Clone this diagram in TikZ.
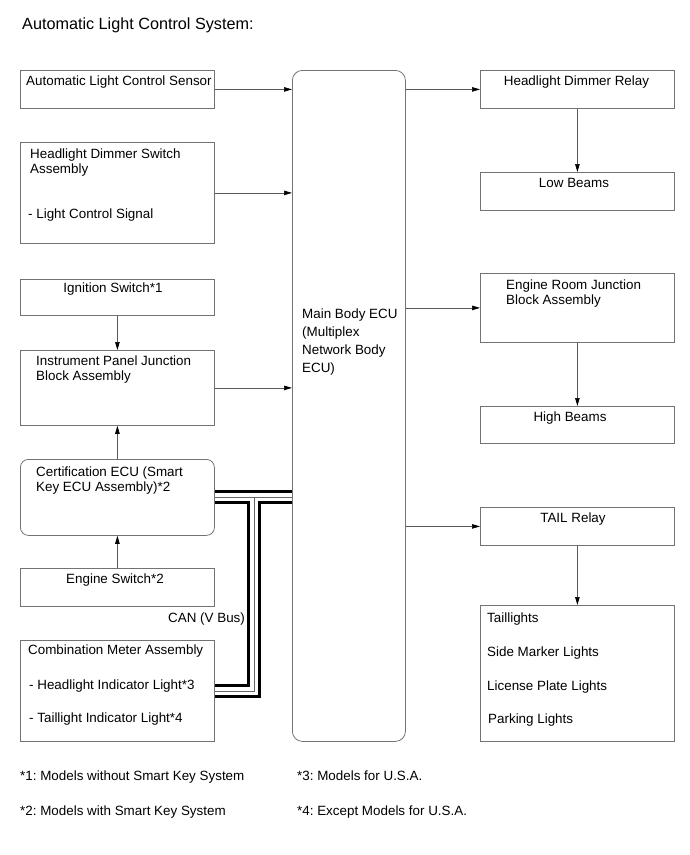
\documentclass[tikz,border=0pt]{standalone}
\usepackage{fontspec}
\setmainfont{Liberation Sans}
\usetikzlibrary{arrows.meta}
\frenchspacing

\tikzset{
  block/.style={draw=black!55, line width=0.8pt, rectangle, inner sep=0pt,
    anchor=north west, minimum width=194pt},
  rblock/.style={block, rounded corners=8pt},
  txt/.style={anchor=base west, inner sep=0pt, font=\fontsize{13.4}{15}\selectfont},
  ctxt/.style={txt, anchor=base},
  mtxt/.style={txt, anchor=north west, align=left},
  flow/.style={draw=black!65, line width=0.7pt,
    -{Triangle[length=8pt,width=4.5pt,color=black]}},
}

\begin{document}
\begin{tikzpicture}[x=1pt, y=-1pt]
  \useasboundingbox (0,0) rectangle (690,855);

  \node[anchor=base west, inner sep=0pt, font=\fontsize{16.2}{19}\selectfont]
    (title) at (22,29) {Automatic Light Control System:};

  % inputs
  \node[block, minimum height=38pt]  (sensor) at (20,70) {};
  \node[block, minimum height=101pt] (hdsa)   at (20,142) {};
  \node[block, minimum height=36pt]  (ign)    at (20,279) {};
  \node[block, minimum height=75pt]  (ipjb)   at (20,350) {};
  \node[rblock, minimum height=76pt] (cert)   at (20,459) {};
  \node[block, minimum height=38pt]  (engsw)  at (20,568) {};
  \node[block, minimum height=101pt] (combo)  at (20,640) {};

  % main body ecu
  \node[block, rounded corners=10pt, minimum width=113pt, minimum height=671pt]
    (ecu) at (292,70) {};

  % outputs
  \node[block, minimum height=38pt]  (hdr)   at (480,70) {};
  \node[block, minimum height=38pt]  (low)   at (480,172) {};
  \node[block, minimum height=69pt]  (erjb)  at (480,273) {};
  \node[block, minimum height=37pt]  (high)  at (480,406) {};
  \node[block, minimum height=38pt]  (tail)  at (480,507) {};
  \node[block, minimum height=136pt] (lamps) at (480,605) {};

  % texts
  \node[txt]  (sensor-t) at (26,85) {Automatic Light Control Sensor};
  \node[mtxt] (hdsa-t)   at (30,148.4) {Headlight Dimmer Switch\\Assembly};
  \node[txt]  (hdsa-s)   at (28,218) {- Light Control Signal};
  \node[ctxt] (ign-t)    at (113,292.6) {Ignition Switch*1};
  \node[mtxt] (ipjb-t)   at (36,355.4) {Instrument Panel Junction\\Block Assembly};
  \node[mtxt] (cert-t)   at (36,466.4) {Certification ECU (Smart\\Key ECU Assembly)*2};
  \node[ctxt] (engsw-t)  at (115,583) {Engine Switch*2};
  \node[txt]  (can-t)    at (168,622) {CAN (V Bus)};
  \node[txt]  (combo-t)  at (28,654) {Combination Meter Assembly};
  \node[txt]  (combo-a)  at (29,689.5) {- Headlight Indicator Light*3};
  \node[txt]  (combo-b)  at (29,722.5) {- Taillight Indicator Light*4};

  \node[mtxt, font=\fontsize{13.4}{18}\selectfont]
    (ecu-t) at (302,308.4) {Main Body ECU\\(Multiplex\\Network Body\\ECU)};

  \node[ctxt] (hdr-t)   at (576.5,85) {Headlight Dimmer Relay};
  \node[ctxt] (low-t)   at (574,187) {Low Beams};
  \node[mtxt] (erjb-t)  at (506,280) {Engine Room Junction\\Block Assembly};
  \node[ctxt] (high-t)  at (570,421) {High Beams};
  \node[ctxt] (tail-t)  at (573,522) {TAIL Relay};
  \node[txt]  (lamps-a) at (487,622) {Taillights};
  \node[txt]  (lamps-b) at (487,656) {Side Marker Lights};
  \node[txt]  (lamps-c) at (487,690) {License Plate Lights};
  \node[txt]  (lamps-d) at (488,723) {Parking Lights};

  % notes
  \node[txt] (note1) at (20,780) {*1: Models without Smart Key System};
  \node[txt] (note2) at (20,815) {*2: Models with Smart Key System};
  \node[txt] (note3) at (297,780) {*3: Models for U.S.A.};
  \node[txt] (note4) at (297,815) {*4: Except Models for U.S.A.};

  % signal lines
  \draw[flow] (sensor.east) -- (sensor.east -| ecu.west);
  \draw[flow] (hdsa.east) -- (hdsa.east -| ecu.west);
  \draw[flow] (ipjb.east) -- (ipjb.east -| ecu.west);
  \draw[flow] (ign) -- (ipjb);
  \draw[flow] (cert) -- (ipjb);
  \draw[flow] (engsw) -- (cert);

  \draw[flow] (ecu.east |- hdr.west) -- (hdr.west);
  \draw[flow] (ecu.east |- erjb.west) -- (erjb.west);
  \draw[flow] (ecu.east |- tail.west) -- (tail.west);
  \draw[flow] (hdr) -- (low);
  \draw[flow] (erjb) -- (high);
  \draw[flow] (tail) -- (lamps);

  % can bus
  \coordinate (tee) at (254,497);
  \foreach \w/\c in {14pt/black, 8pt/white, 0.7pt/black!60} {
    \draw[line width=\w, \c] (ecu.west |- cert.east) -- (cert.east);
    \draw[line width=\w, \c] (tee) |- (combo.east);
  }
\end{tikzpicture}
\end{document}
